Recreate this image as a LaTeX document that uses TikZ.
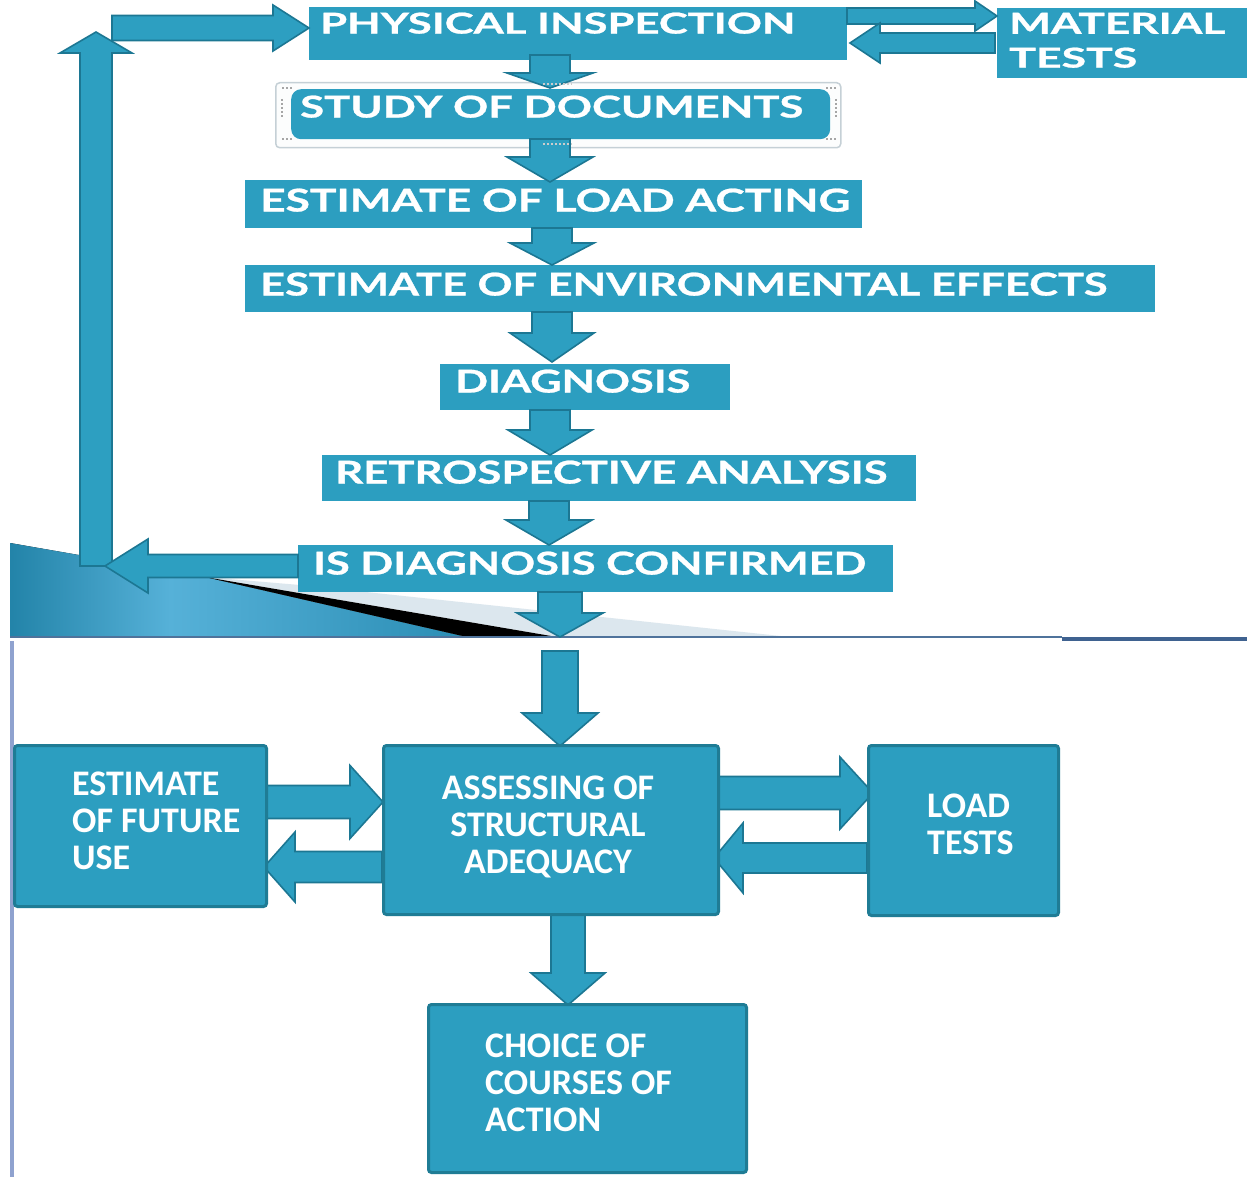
\documentclass[tikz,border=0pt]{standalone}
\usepackage{graphicx}
\usepackage{fontspec}
\newfontfamily\topfont{Lato}[BoldFeatures={FakeBold=0.8}]
\newfontfamily\botfont{Carlito}
\definecolor{boxfill}{HTML}{2C9EC0}
\definecolor{boxedge}{HTML}{1F7C95}
\definecolor{arrfill}{HTML}{2D9FC1}
\definecolor{arredge}{HTML}{1C7793}
\definecolor{wedgeA}{HTML}{2283A8}
\definecolor{wedgeB}{HTML}{56B1D8}
\definecolor{wedgeC}{HTML}{2A8DB4}
\definecolor{greyband}{HTML}{DCE7EE}
\definecolor{frameline}{HTML}{C5D0D6}
\definecolor{slideline}{HTML}{4F739B}
\definecolor{slidelinedark}{HTML}{3F6290}
\definecolor{leftline}{HTML}{8FA2CF}
\tikzset{
  topbox/.style={fill=boxfill, draw=none, inner sep=0pt, anchor=north west},
  botbox/.style={fill=boxfill, draw=boxedge, line width=3pt, rounded corners=3pt, inner sep=0pt, anchor=north west},
  blockarrow/.style={fill=arrfill, draw=arredge, line width=1.6pt, line join=miter},
  toptxt/.style={text=white, inner sep=0pt, anchor=south west, font=\topfont\bfseries},
  bottxt/.style={text=white, inner sep=0pt, anchor=north west, align=left, font=\botfont\bfseries\fontsize{36}{37}\selectfont},
  handle/.style={draw=gray!70, line width=2pt, dash pattern=on 2pt off 2pt}
}
% vertical block arrow: cx, y start, y neck, y tip, stem half width, head half width
\newcommand\vblk[6]{\draw[blockarrow] (#1-#5,#2) -- (#1+#5,#2) -- (#1+#5,#3) -- (#1+#6,#3) -- (#1,#4) -- (#1-#6,#3) -- (#1-#5,#3) -- cycle;}
% horizontal block arrow: cy, x start, x neck, x tip, stem half width, head half width
\newcommand\hblk[6]{\draw[blockarrow] (#2,#1-#5) -- (#3,#1-#5) -- (#3,#1-#6) -- (#4,#1) -- (#3,#1+#6) -- (#3,#1+#5) -- (#2,#1+#5) -- cycle;}
\begin{document}
\begin{tikzpicture}[x=1pt,y=-1pt]
\useasboundingbox (0,0) rectangle (1247,1177);
\fill[white] (0,0) rectangle (1247,1177);

% slide background decoration
\fill[greyband] (205,577) -- (300,585) -- (790,637) -- (557,637) -- cycle;
\begin{scope}
\clip (10,543) -- (205,577) -- (467,637) -- (10,637) -- cycle;
\fill[left color=wedgeA, right color=wedgeB] (8,540) rectangle (170,640);
\fill[left color=wedgeB, right color=wedgeC] (169,540) rectangle (470,640);
\end{scope}
\fill[black] (205,577) -- (557,637) -- (467,637) -- cycle;
\draw[slideline, line width=1.5pt] (10,637) -- (1062,637);
\draw[slidelinedark, line width=3.5pt] (1062,639) -- (1247,639);
\draw[leftline, line width=4pt] (12,641) -- (12,1177);

% top flow boxes
\node[topbox, minimum width=538pt, minimum height=53pt] (pi) at (309,7) {};
\node[topbox, minimum width=250pt, minimum height=70pt] (mt) at (997,8) {};
\node[fill=white!95!frameline, draw=frameline, line width=1.5pt, rounded corners=4pt, minimum width=565pt, minimum height=65pt, inner sep=0pt, anchor=north west] (sdframe) at (275,82) {};
\node[topbox, rounded corners=10pt, minimum width=539pt, minimum height=50pt] (sd) at (291,89) {};
\node[topbox, minimum width=617pt, minimum height=48pt] (ela) at (245,180) {};
\node[topbox, minimum width=910pt, minimum height=47pt] (env) at (245,265) {};
\node[topbox, minimum width=290pt, minimum height=46pt] (diag) at (440,364) {};
\node[topbox, minimum width=594pt, minimum height=46pt] (ra) at (322,455) {};
\node[topbox, minimum width=595pt, minimum height=47pt] (isd) at (298,545) {};

% selection handles on study box frame
\draw[handle] (282,88) -- (293,88);
\draw[handle] (282,139) -- (293,139);
\draw[handle] (282,99) -- (282,118);
\draw[handle] (826,88) -- (837,88);
\draw[handle] (826,139) -- (837,139);
\draw[handle] (836,99) -- (836,118);

% top arrows
\vblk{550}{55}{73}{88}{20}{43}
\vblk{550}{139}{157}{182}{20}{43}
\vblk{552}{228}{243}{265}{20}{42}
\vblk{552}{312}{333}{362}{20}{42}
\vblk{550}{410}{430}{455}{20}{42}
\vblk{549}{501}{520}{545}{20}{43}
\vblk{560}{592}{613}{637}{22}{43}
\draw[handle, draw=gray!40] (543,84) -- (572,84);
\draw[handle, draw=gray!40] (543,144) -- (572,144);
\hblk{16}{847}{975}{997}{8}{15}
\hblk{43}{995}{880}{850}{10}{20}
% feedback loop
\vblk{96}{566}{53}{32}{16}{36}
\hblk{28}{112}{273}{309}{12.5}{23}
\hblk{566}{298}{148}{105}{11.5}{27}

% top texts
\node[toptxt] (tpi) at (320,34) {\resizebox{475pt}{21pt}{PHYSICAL INSPECTION}};
\node[toptxt] (tmt1) at (1009,34) {\resizebox{216pt}{21pt}{MATERIAL}};
\node[toptxt] (tmt2) at (1009,68) {\resizebox{128pt}{20pt}{TESTS}};
\node[toptxt] (tsd) at (300,118) {\resizebox{503pt}{22pt}{STUDY OF DOCUMENTS}};
\node[toptxt] (tela) at (260,212) {\resizebox{590pt}{23pt}{ESTIMATE OF LOAD ACTING}};
\node[toptxt] (tenv) at (260,296) {\resizebox{847pt}{23pt}{ESTIMATE OF ENVIRONMENTAL EFFECTS}};
\node[toptxt] (tdiag) at (455,393) {\resizebox{235pt}{23pt}{DIAGNOSIS}};
\node[toptxt] (tra) at (335,484) {\resizebox{552pt}{23pt}{RETROSPECTIVE ANALYSIS}};
\node[toptxt] (tisd) at (313,575) {\resizebox{553pt}{23pt}{IS DIAGNOSIS CONFIRMED}};

% bottom arrows
\vblk{560}{651}{713}{746}{18}{38}
\vblk{568}{913}{973}{1005}{17}{37}
\hblk{802}{265}{350}{383}{16.5}{36.5}
\hblk{867}{382}{295}{264}{15.5}{35}
\hblk{793}{718}{840}{873}{16.5}{36}
\hblk{858}{867}{743}{714}{15}{35}

% bottom boxes
\node[botbox, minimum width=252pt, minimum height=161pt] (efu) at (13,744) {};
\node[botbox, minimum width=335pt, minimum height=169pt] (asa) at (382,744) {};
\node[botbox, minimum width=190pt, minimum height=170pt] (lt) at (867,744) {};
\node[botbox, minimum width=318pt, minimum height=168pt] (coa) at (427,1003) {};

% bottom texts
\node[bottxt] (tefu) at (72,772) {ESTIMATE\\OF FUTURE\\USE};
\node[bottxt, align=center, anchor=north] (tasa) at (548,776) {ASSESSING OF\\STRUCTURAL\\ADEQUACY};
\node[bottxt] (tlt) at (927,794) {LOAD\\TESTS};
\node[bottxt] (tcoa) at (485,1034) {CHOICE OF\\COURSES OF\\ACTION};
\end{tikzpicture}
\end{document}
